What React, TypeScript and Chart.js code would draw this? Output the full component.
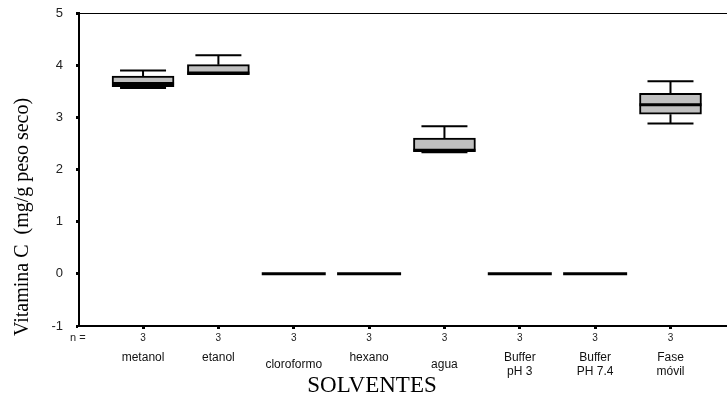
import React, { useEffect, useRef } from "react";
import { Chart, registerables } from "chart.js";

Chart.register(...registerables);

const categories = ["metanol", "etanol", "cloroformo", "hexano", "agua", "Buffer pH 3", "Buffer PH 7.4", "Fase móvil"];
const tickLabels: (string | string[])[] = [
  ["metanol", ""],
  ["etanol", ""],
  "cloroformo",
  ["hexano", ""],
  "agua",
  ["Buffer", "pH 3"],
  ["Buffer", "PH 7.4"],
  ["Fase", "móvil"],
];
const nCounts = [3, 3, 3, 3, 3, 3, 3, 3];
const minVals = [3.56, 3.82, 0, 0, 2.33, 0, 0, 2.88];
const q1Vals = [3.59, 3.82, 0, 0, 2.34, 0, 0, 3.06];
const medianVals = [3.65, 3.85, 0, 0, 2.37, 0, 0, 3.24];
const q3Vals = [3.79, 4.01, 0, 0, 2.6, 0, 0, 3.46];
const maxVals = [3.9, 4.19, 0, 0, 2.83, 0, 0, 3.69];
const yTicks = [-1, 0, 1, 2, 3, 4, 5];
const yTitle = "Vitamina C  (mg/g peso seco)";
const xTitle = "SOLVENTES";
const nLabel = "n =";

const BOX_W = 62;
const CAP_W = 46;
const SANS = "'Liberation Sans', Arial, sans-serif";
const SERIF = "'Liberation Serif', 'Times New Roman', serif";

const positions = categories.map((_, i) => i + 1);

const boxPlugin = {
  id: "boxPlugin",
  afterDatasetsDraw(chart: any) {
    const ctx = chart.ctx;
    const x = chart.scales.x;
    const y = chart.scales.y;
    ctx.save();
    ctx.strokeStyle = "#000";
    categories.forEach((_, i) => {
      const cx = x.getPixelForValue(positions[i]);
      const pMin = y.getPixelForValue(minVals[i]);
      const pMax = y.getPixelForValue(maxVals[i]);
      const pQ1 = y.getPixelForValue(q1Vals[i]);
      const pQ3 = y.getPixelForValue(q3Vals[i]);
      const pMed = y.getPixelForValue(medianVals[i]);
      ctx.lineWidth = 2;
      ctx.beginPath();
      if (maxVals[i] > q3Vals[i]) {
        ctx.moveTo(cx, pQ3);
        ctx.lineTo(cx, pMax);
        ctx.moveTo(cx - CAP_W / 2, pMax);
        ctx.lineTo(cx + CAP_W / 2, pMax);
      }
      if (minVals[i] < q1Vals[i]) {
        ctx.moveTo(cx, pQ1);
        ctx.lineTo(cx, pMin);
        ctx.moveTo(cx - CAP_W / 2, pMin);
        ctx.lineTo(cx + CAP_W / 2, pMin);
      }
      ctx.stroke();
      ctx.lineWidth = 3;
      ctx.beginPath();
      const ext = q3Vals[i] === q1Vals[i] ? 1 : 0;
      ctx.moveTo(cx - BOX_W / 2 - ext, pMed);
      ctx.lineTo(cx + BOX_W / 2 + ext, pMed);
      ctx.stroke();
    });
    ctx.restore();
  },
  afterDraw(chart: any) {
    const ctx = chart.ctx;
    const a = chart.chartArea;
    ctx.save();
    ctx.strokeStyle = "#000";
    ctx.lineWidth = 1;
    ctx.beginPath();
    ctx.moveTo(a.left, a.top + 0.5);
    ctx.lineTo(a.right, a.top + 0.5);
    ctx.stroke();
    ctx.fillStyle = "#222";
    ctx.font = `11px ${SANS}`;
    ctx.textAlign = "left";
    ctx.textBaseline = "middle";
    ctx.fillText(nLabel, 70, 338);
    ctx.fillStyle = "#000";
    ctx.font = `23px ${SERIF}`;
    ctx.textAlign = "center";
    ctx.fillText(xTitle, 372, 386);
    ctx.translate(23, 217);
    ctx.rotate(-Math.PI / 2);
    ctx.font = `20px ${SERIF}`;
    ctx.fillText(yTitle, 0, 0);
    ctx.restore();
  },
};

export default function App() {
  const ref = useRef<HTMLCanvasElement | null>(null);
  useEffect(() => {
    document.body.style.margin = "0";
    if (!ref.current) return;
    const setTicks = (s: any) => {
      s.ticks = positions.map((v) => ({ value: v }));
    };
    const chart = new Chart(ref.current, {
      type: "bar",
      data: {
        datasets: [
          {
            data: categories.map((_, i) => ({ x: positions[i], y: [q1Vals[i], q3Vals[i]] })) as any,
            backgroundColor: "#c0c0c0",
            borderColor: "#000",
            borderWidth: 2,
            borderSkipped: false,
            barThickness: BOX_W,
          },
        ],
      },
      options: {
        animation: false,
        responsive: true,
        maintainAspectRatio: false,
        layout: { padding: { top: 13, left: 0, right: 0, bottom: 0 } },
        plugins: { legend: { display: false }, tooltip: { enabled: false } },
        scales: {
          x: {
            type: "linear",
            position: "bottom",
            offset: false,
            min: 0.15,
            max: 8.75,
            afterBuildTicks: setTicks,
            afterFit: (s: any) => {
              s.height = 22;
            },
            ticks: {
              callback: (v: any) => String(nCounts[Number(v) - 1]),
              font: { family: SANS, size: 10 },
              color: "#222",
              padding: 3,
              maxRotation: 0,
            },
            grid: { offset: false, drawOnChartArea: false, drawTicks: true, tickLength: 3, tickWidth: 3, color: "#000" },
            border: { display: true, color: "#000", width: 2 },
          },
          x2: {
            type: "linear",
            position: "bottom",
            offset: false,
            min: 0.15,
            max: 8.75,
            afterBuildTicks: setTicks,
            afterFit: (s: any) => {
              s.height = 53;
            },
            ticks: {
              callback: (v: any) => tickLabels[Number(v) - 1],
              font: { family: SANS, size: 12, lineHeight: 1.1 },
              color: "#111",
              padding: 10,
              crossAlign: "center",
              maxRotation: 0,
              autoSkip: false,
            },
            grid: { display: false, drawTicks: false },
            border: { display: false },
          },
          y: {
            type: "linear",
            min: -1,
            max: 5,
            afterBuildTicks: (s: any) => {
              s.ticks = yTicks.map((v) => ({ value: v }));
            },
            afterFit: (s: any) => {
              s.width = 79;
              s.paddingTop = 0;
              s.paddingBottom = 0;
            },
            ticks: {
              font: { family: SANS, size: 13 },
              color: "#222",
              padding: 13,
            },
            grid: { drawOnChartArea: false, drawTicks: true, tickLength: 3, tickWidth: 3, color: "#000" },
            border: { display: true, color: "#000", width: 2 },
          },
        },
      },
      plugins: [boxPlugin],
    });
    return () => chart.destroy();
  }, []);
  return (
    <div style={{ position: "relative", width: 727, height: 401 }}>
      <canvas ref={ref} />
    </div>
  );
}
